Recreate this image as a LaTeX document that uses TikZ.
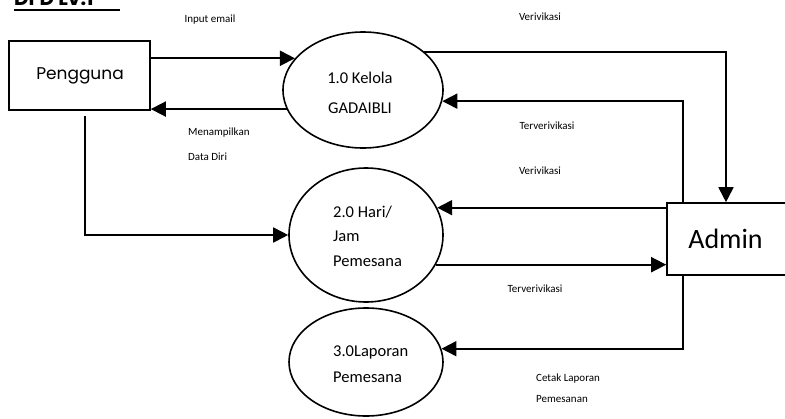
\documentclass[tikz,border=0pt]{standalone}
\usepackage{fontspec}
\setmainfont{Carlito}
\newfontfamily\comic{Poppins}
\usetikzlibrary{shapes.geometric,arrows.meta}
\begin{document}
\begin{tikzpicture}[x=1pt,y=-1pt,
  flow/.style={line width=1.8pt,-{Triangle[length=15pt,width=15pt]}},
  entity/.style={draw,line width=1.6pt,rectangle,inner sep=0pt},
  proc/.style={draw,line width=1.6pt,ellipse,inner sep=0pt},
  lbl/.style={font=\fontsize{11}{13}\selectfont,inner sep=0pt},
  ptext/.style={font=\fontsize{16.5}{18}\selectfont,inner sep=0pt}]
\useasboundingbox (0,0) rectangle (785,418);
\clip (0,0) rectangle (785,418);
\fill[white] (0,0) rectangle (785,418);
% title (cut off at top, as in the reference)
\node[anchor=base west,inner sep=0pt,font=\comic\bfseries\fontsize{20}{22}\selectfont] (ttl) at (14,5) {DFD Lv.1};
\draw[line width=2pt] (14,9.5) -- (120,9.5);
% entities
\node[entity,minimum width=141pt,minimum height=69pt] (pg) at (79.5,75.5) {};
\node[inner sep=0pt,font=\comic\fontsize{17}{19}\selectfont] (pgt) at (80,76) {Pengguna};
\node[entity,minimum width=130pt,minimum height=72pt] (ad) at (732,239) {};
\node[inner sep=0pt,font=\fontsize{28}{30}\selectfont] (adt) at (725.5,239) {Admin};
% processes
\node[proc,minimum width=160pt,minimum height=116pt] (e1) at (363,90) {};
\node[proc,minimum width=154pt,minimum height=134pt] (e2) at (366,235) {};
\node[proc,minimum width=154pt,minimum height=108pt] (e3) at (366,362) {};
\node[ptext] (t1a) at (360,78) {1.0 Kelola};
\node[ptext] (t1b) at (360,108) {GADAIBLI};
\node[ptext,anchor=west] (t2a) at (333,212) {2.0 Hari/};
\node[ptext,anchor=west] (t2b) at (333,236) {Jam};
\node[ptext,anchor=west] (t2c) at (333,261) {Pemesana};
\node[ptext,anchor=west] (t3a) at (333,352) {3.0Laporan};
\node[ptext,anchor=west] (t3b) at (333,377) {Pemesana};
% flows
\draw[flow] (pg.east |- e1.155.4) -- (e1.155.4);
\draw[flow] (e1.194.9) -- (pg.east |- e1.194.9);
\draw[flow] (e1.32.2) -| ([xshift=-6pt]ad.north);
\draw[flow] ([xshift=-49pt]ad.north) |- (e1.352.8);
\draw[flow] ([xshift=5.5pt,yshift=-5pt]pg.south) |- (e2.west);
\draw[flow] (ad.west |- e2.21) -- (e2.21);
\draw[flow] (e2.337.76) -- (ad.west |- e2.337.76);
\draw[flow] ([xshift=-49pt]ad.south) |- (e3.10.7);
% labels
\node[lbl] (l1) at (210,20) {Input email};
\node[lbl] (l2) at (540,17) {Verivikasi};
\node[lbl] (l3) at (547,126) {Terverivikasi};
\node[lbl,anchor=west] (l4) at (188,133) {Menampilkan};
\node[lbl,anchor=west] (l5) at (188,157) {Data Diri};
\node[lbl] (l6) at (540,171) {Verivikasi};
\node[lbl] (l7) at (535,289) {Terverivikasi};
\node[lbl,anchor=west] (l8) at (536,379) {Cetak Laporan};
\node[lbl,anchor=west] (l9) at (536,399) {Pemesanan};
\end{tikzpicture}
\end{document}
